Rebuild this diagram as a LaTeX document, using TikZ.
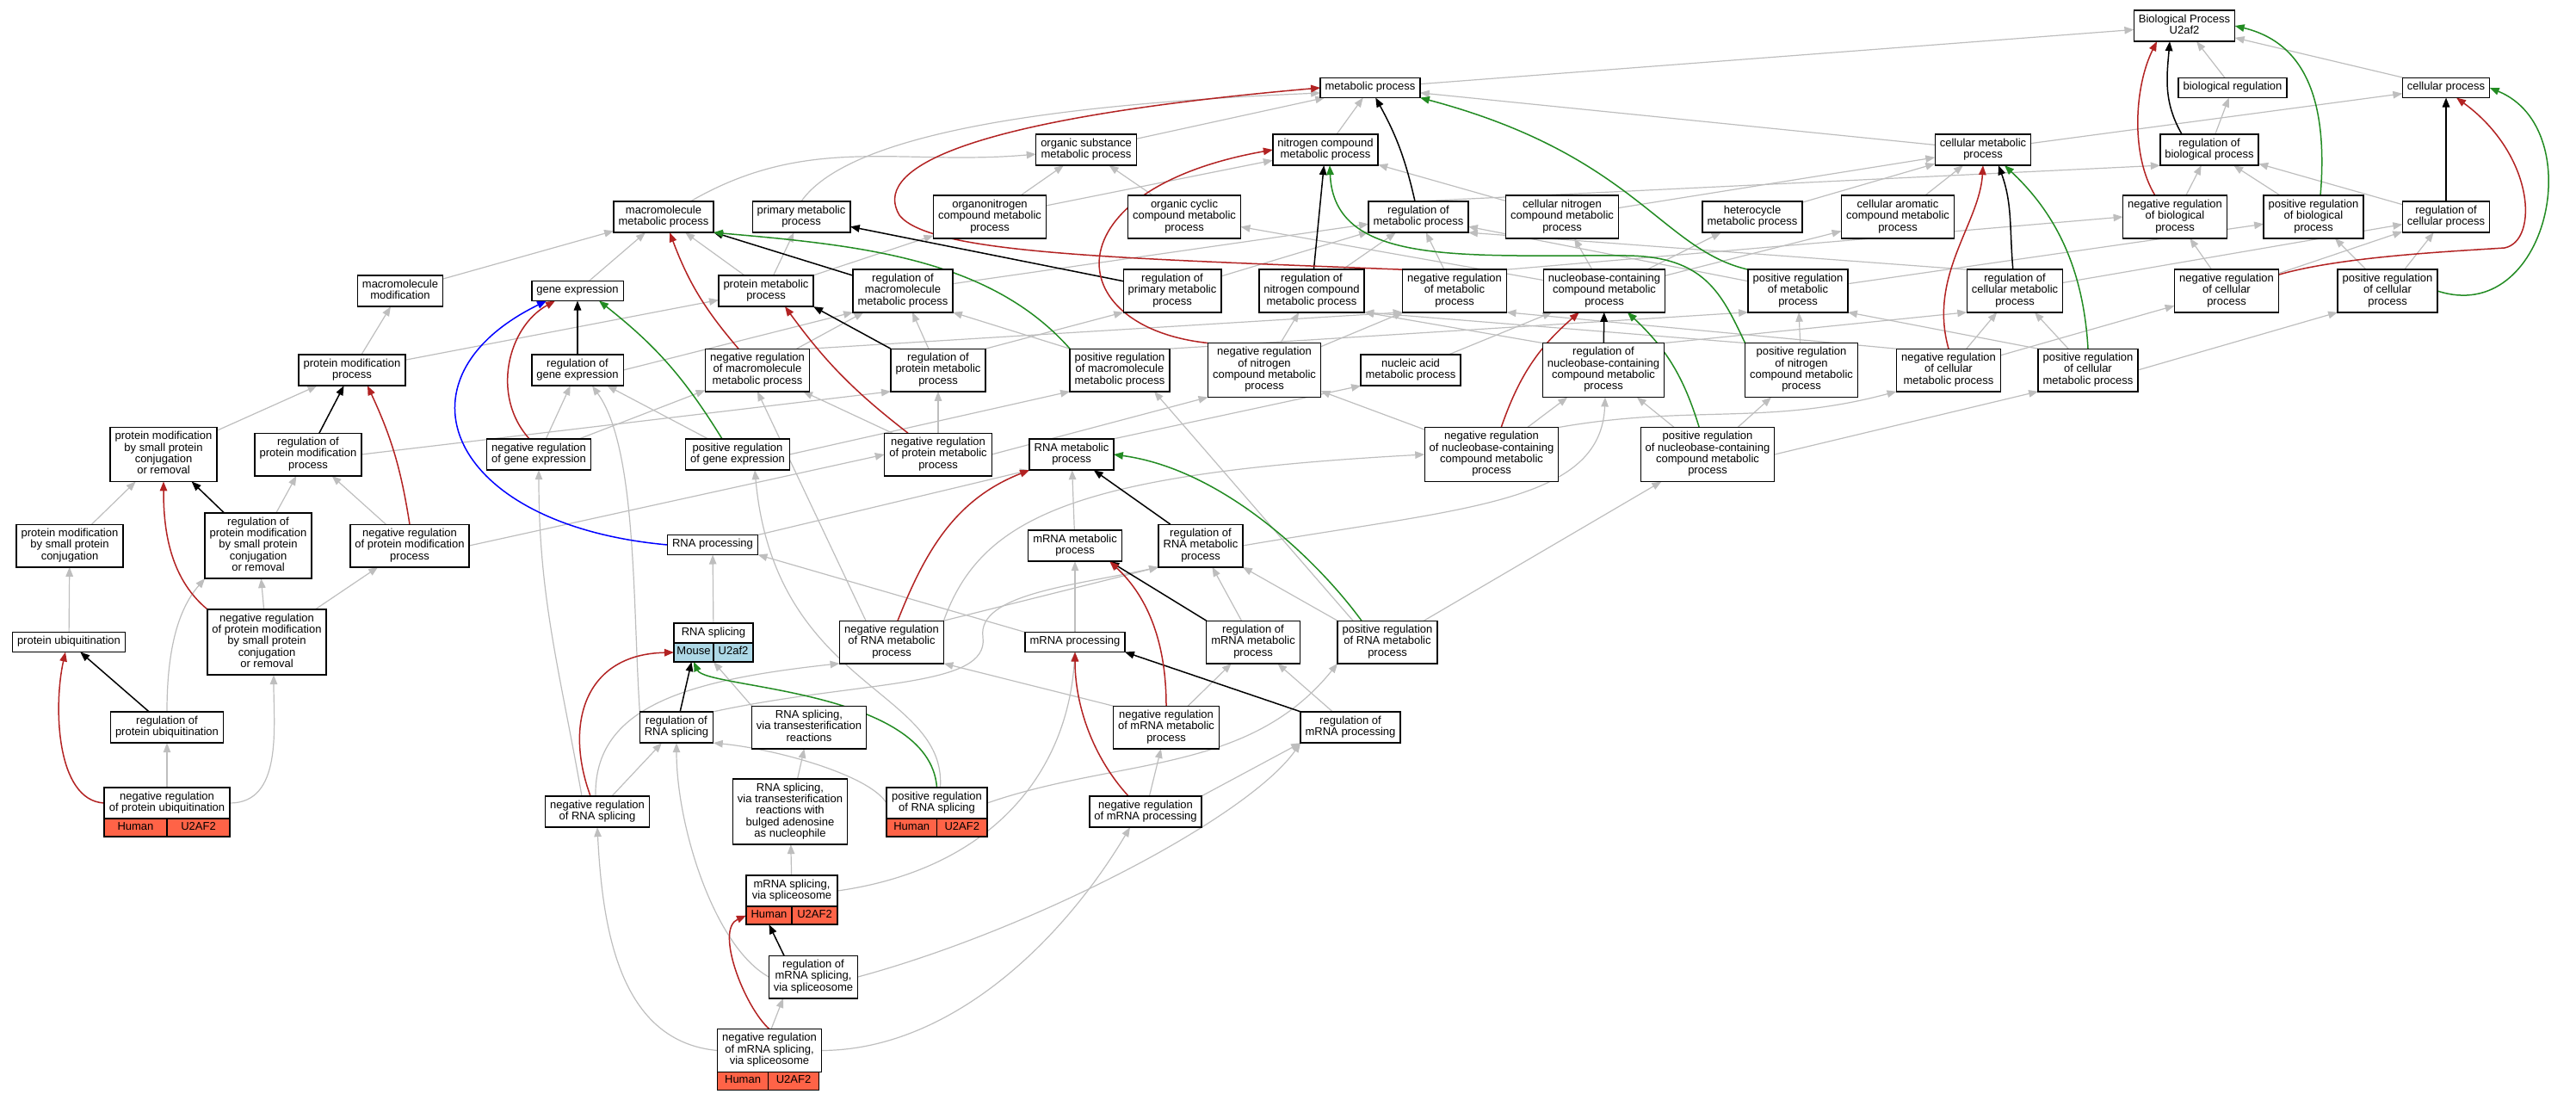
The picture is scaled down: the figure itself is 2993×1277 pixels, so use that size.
\documentclass[tikz,border=0pt]{standalone}
\usepackage{fontspec}
\setmainfont{Liberation Sans}
\usetikzlibrary{arrows.meta,backgrounds}
\definecolor{isagray}{HTML}{BEBEBE}
\definecolor{negred}{HTML}{B22222}
\definecolor{posgreen}{HTML}{228B22}
\definecolor{partblue}{HTML}{0000FF}
\definecolor{humancell}{HTML}{FF6347}
\definecolor{mousecell}{HTML}{ADD8E6}
\begin{document}
\begin{tikzpicture}[x=1pt, y=-1pt,
    term/.style={draw, rectangle, fill=white, align=center, line width=1.4pt,
      inner xsep=5.5pt, inner ysep=4.8pt, minimum height=23pt, outer sep=0pt,
      font=\fontsize{13}{13.3}\selectfont,
      execute at begin node=\strut, execute at end node=\strut},
    every node/.style={term},
    human/.style={fill=humancell, inner xsep=2pt, inner ysep=3.8pt, minimum height=21pt},
    mouse/.style={fill=mousecell, inner xsep=2pt, inner ysep=4pt, minimum height=22pt},
    tip/.style={-{Triangle[length=11pt,width=8.5pt]}},
    isa/.style={draw=isagray, line width=1.2pt, tip},
    reg/.style={draw=black, line width=1.5pt, tip},
    negreg/.style={draw=negred, line width=1.5pt, tip},
    posreg/.style={draw=posgreen, line width=1.5pt, tip},
    partof/.style={draw=partblue, line width=1.5pt, tip}]
  \useasboundingbox (0,0) rectangle (2993,1277);
  \draw
    (2538,30) node (0) {Biological Process\\U2af2}
    (1592,102) node (1) {metabolic process}
    (2594,102) node (2) {biological regulation}
    (2842,102) node (3) {cellular process}
    (1262,174) node (4) {organic substance\\metabolic process}
    (1540,174) node (5) {nitrogen compound\\metabolic process}
    (2304,174) node (6) {cellular metabolic\\process}
    (2567,174) node (7) {regulation of\\biological process}
    (771,252) node (8) {macromolecule\\metabolic process}
    (931,252) node (9) {primary metabolic\\process}
    (1150,252) node (10) {organonitrogen\\compound metabolic\\process}
    (1376,252) node (11) {organic cyclic\\compound metabolic\\process}
    (1648,252) node (12) {regulation of\\metabolic process}
    (1815,252) node (13) {cellular nitrogen\\compound metabolic\\process}
    (2036,252) node (14) {heterocycle\\metabolic process}
    (2205,252) node (15) {cellular aromatic\\compound metabolic\\process}
    (2527,252) node (16) {negative regulation\\of biological\\process}
    (2688,252) node (17) {positive regulation\\of biological\\process}
    (2842,252) node (18) {regulation of\\cellular process}
    (465,338) node (19) {macromolecule\\modification}
    (671,338) node (20) {gene expression}
    (890,338) node (21) {protein metabolic\\process}
    (1049,338) node (22) {regulation of\\macromolecule\\metabolic process}
    (1362,338) node (23) {regulation of\\primary metabolic\\process}
    (1524,338) node (24) {regulation of\\nitrogen compound\\metabolic process}
    (1690,338) node (25) {negative regulation\\of metabolic\\process}
    (1864,338) node (26) {nucleobase-containing\\compound metabolic\\process}
    (2089,338) node (27) {positive regulation\\of metabolic\\process}
    (2341,338) node (28) {regulation of\\cellular metabolic\\process}
    (2587,338) node (29) {negative regulation\\of cellular\\process}
    (2774,338) node (30) {positive regulation\\of cellular\\process}
    (409,430) node (31) {protein modification\\process}
    (671,430) node (32) {regulation of\\gene expression}
    (880,430) node (33) {negative regulation\\of macromolecule\\metabolic process}
    (1090,430) node (34) {regulation of\\protein metabolic\\process}
    (1301,430) node (35) {positive regulation\\of macromolecule\\metabolic process}
    (1469,430) node (36) {negative regulation\\of nitrogen\\compound metabolic\\process}
    (1639,430) node (37) {nucleic acid\\metabolic process}
    (1863,430) node (38) {regulation of\\nucleobase-containing\\compound metabolic\\process}
    (2093,430) node (39) {positive regulation\\of nitrogen\\compound metabolic\\process}
    (2264,430) node (40) {negative regulation\\of cellular\\metabolic process}
    (2426,430) node (41) {positive regulation\\of cellular\\metabolic process}
    (190,528) node (42) {protein modification\\by small protein\\conjugation\\or removal}
    (358,528) node (43) {regulation of\\protein modification\\process}
    (626,528) node (44) {negative regulation\\of gene expression}
    (857,528) node (45) {positive regulation\\of gene expression}
    (1090,528) node (46) {negative regulation\\of protein metabolic\\process}
    (1245,528) node (47) {RNA metabolic\\process}
    (1733,528) node (48) {negative regulation\\of nucleobase-containing\\compound metabolic\\process}
    (1984,528) node (49) {positive regulation\\of nucleobase-containing\\compound metabolic\\process}
    (81,634) node (50) {protein modification\\by small protein\\conjugation}
    (300,634) node (51) {regulation of\\protein modification\\by small protein\\conjugation\\or removal}
    (476,634) node (52) {negative regulation\\of protein modification\\process}
    (828,633) node (53) {RNA processing}
    (1249,634) node (54) {mRNA metabolic\\process}
    (1395,634) node (55) {regulation of\\RNA metabolic\\process}
    (80,746) node (56) {protein ubiquitination}
    (310,746) node (57) {negative regulation\\of protein modification\\by small protein\\conjugation\\or removal}
    (829,735.5) node[minimum width=92pt] (58) {RNA splicing}
    (1036,746) node (59) {negative regulation\\of RNA metabolic\\process}
    (1249,746) node (60) {mRNA processing}
    (1456,746) node (61) {regulation of\\mRNA metabolic\\process}
    (1612,746) node (62) {positive regulation\\of RNA metabolic\\process}
    (194,845) node (63) {regulation of\\protein ubiquitination}
    (786,845) node (64) {regulation of\\RNA splicing}
    (940,845) node (65) {RNA splicing,\\via transesterification\\reactions}
    (1355,845) node (66) {negative regulation\\of mRNA metabolic\\process}
    (1569,845) node (67) {regulation of\\mRNA processing}
    (194,933) node[minimum width=146pt] (68) {negative regulation\\of protein ubiquitination}
    (694,943) node (69) {negative regulation\\of RNA splicing}
    (918,943) node (70) {RNA splicing,\\via transesterification\\reactions with\\bulged adenosine\\as nucleophile}
    (1088.5,933) node[minimum width=117pt] (71) {positive regulation\\of RNA splicing}
    (1331,943) node (72) {negative regulation\\of mRNA processing}
    (920,1035) node[minimum width=106pt] (73) {mRNA splicing,\\via spliceosome}
    (945,1135) node (74) {regulation of\\mRNA splicing,\\via spliceosome}
    (894,1220.5) node[minimum width=118pt] (75) {negative regulation\\of mRNA splicing,\\via spliceosome};
  \draw
    (58.south west) node[mouse, anchor=north west, minimum width=46pt] (58a) {Mouse}
    (58a.north east) node[mouse, anchor=north west, minimum width=46pt] (58b) {U2af2}
    (68.south west) node[human, anchor=north west, minimum width=73pt] (68a) {Human}
    (68a.north east) node[human, anchor=north west, minimum width=73pt] (68b) {U2AF2}
    (71.south west) node[human, anchor=north west, minimum width=58.5pt] (71a) {Human}
    (71a.north east) node[human, anchor=north west, minimum width=58.5pt] (71b) {U2AF2}
    (73.south west) node[human, anchor=north west, minimum width=53pt] (73a) {Human}
    (73a.north east) node[human, anchor=north west, minimum width=53pt] (73b) {U2AF2}
    (75.south west) node[human, anchor=north west, minimum width=59pt] (75a) {Human}
    (75a.north east) node[human, anchor=north west, minimum width=59pt] (75b) {U2AF2};
  \begin{scope}[on background layer]
  \begin{scope}[isa]
    \draw (1) to (0);
    \draw (2) to (0);
    \draw (3) to (0);
    \draw (4) to (1);
    \draw (5) to (1);
    \draw (6) to (1);
    \draw (9.north) .. controls (990,150) and (1250,120) .. ([yshift=-6pt]1.west);
    \draw (6) to (3);
    \draw (7) to (2);
    \draw (8) to[out=30,in=185] (4);
    \draw (10) to (4);
    \draw (11) to (4);
    \draw (10) to (5);
    \draw (13) to (5);
    \draw (13) to (6);
    \draw (14) to (6);
    \draw (15) to (6);
    \draw (12.north) to (7.south west);
    \draw (16) to (7);
    \draw (17) to (7);
    \draw (18) to (7);
    \draw (19) to (8);
    \draw (20) to (8);
    \draw (21) to (8);
    \draw (21) to (9);
    \draw (21) to (10);
    \draw (22) to (12);
    \draw (23) to (12);
    \draw (24) to (12);
    \draw (25) to (12);
    \draw (27) to (12);
    \draw (28.north west) to (12.south east);
    \draw (25.north east) to (16.west);
    \draw (27) to (17);
    \draw (26) to (11);
    \draw (26) to (13);
    \draw (26) to (14);
    \draw (26) to (15);
    \draw (28) to (18);
    \draw (29) to (18);
    \draw (30) to (18);
    \draw (29) to (16);
    \draw (30) to (17);
    \draw (31) to (19);
    \draw (31) to (21);
    \draw (32.east) to (22.south west);
    \draw (33) to (22);
    \draw (33.north east) to (25.south west);
    \draw (34) to (22);
    \draw (34.north east) to (23.south west);
    \draw (35.north west) to (22.south east);
    \draw (35.north east) to (27.south west);
    \draw (36) to (24);
    \draw (36) to (25);
    \draw (37) to (26);
    \draw (38.north west) to (24.south east);
    \draw (38.north east) to (28.south west);
    \draw (39.north west) to (24.south east);
    \draw (39) to (27);
    \draw (40) to (28);
    \draw (40) to (29);
    \draw (40.north west) to (25.south east);
    \draw (41) to (28);
    \draw (41.east) to (30.south west);
    \draw (41.north west) to (27.south east);
    \draw (42) to (31);
    \draw (43.east) to (34.south west);
    \draw (44) to (32);
    \draw (44) to (33);
    \draw (45) to (32);
    \draw (45.east) to (35.south west);
    \draw (46) to (34);
    \draw (46) to (33);
    \draw (46.east) to (36.south west);
    \draw (47.north east) to (37.south west);
    \draw (48) to (38);
    \draw (48) to (36);
    \draw (48.north east) to[out=10,in=195] (40.south west);
    \draw (49) to (38);
    \draw (49) to (39);
    \draw (49.east) to (41.south west);
    \draw (50) to (42);
    \draw (51) to (43);
    \draw (52) to (43);
    \draw (52.east) to (46.west);
    \draw (53.north east) to (47.south west);
    \draw (54) to (47);
    \draw (55.east) .. controls (1700,590) and (1860,585) .. ([xshift=2pt]38.south);
    \draw (56) to (50);
    \draw (57) to (51);
    \draw (57) to (52);
    \draw (58) to (53);
    \draw (59.north east) to (55.south west);
    \draw (59.north east) .. controls (1140,600) and (1250,550) .. (48.west);
    \draw ([xshift=-30pt]59.north) to (33.south);
    \draw (60.north west) to (53.south east);
    \draw (60) to (54);
    \draw (61) to (55);
    \draw (62.north west) to (55.south east);
    \draw (62) to (49);
    \draw ([xshift=-40pt]62.north) to ([xshift=40pt]35.south);
    \draw (63.north) .. controls (194,760) and (205,710) .. (51.south west);
    \draw (64.north west) .. controls (735,700) and (740,520) .. ([xshift=17pt]32.south);
    \draw (64.north east) .. controls (1000,790) and (1150,800) .. (1142,740)
      .. controls (1135,690) and (1250,680) .. (55.south west);
    \draw (65.north west) to (58a.south east);
    \draw (66) to (61);
    \draw (66.north west) to (59.south east);
    \draw (67) to (61);
    \draw (68) to (63);
    \draw (68.east) to[out=0,in=-90] ([xshift=8pt]57.south);
    \draw (69) to (64);
    \draw ([xshift=-18pt]69.north) to[out=100,in=-90] (44.south);
    \draw ([xshift=-2pt]69.north) .. controls (690,820) and (800,790) .. (59.south west);
    \draw (70) to (65);
    \draw (71.west) .. controls (1010,900) and (900,870) .. (64.south east);
    \draw (71.east) .. controls (1300,880) and (1450,900) .. (62.south west);
    \draw ([xshift=4pt]71.north) .. controls (1100,800) and (900,800) .. ([xshift=20pt]45.south);
    \draw (72) to (66);
    \draw (72.north east) to (67.south west);
    \draw (73) to (70);
    \draw (73.east) .. controls (1150,1010) and (1240,900) .. (60.south);
    \draw (74.west) .. controls (830,1100) and (786,960) .. (64.south);
    \draw (74.east) .. controls (1200,1080) and (1450,950) .. (67.south west);
    \draw ([xshift=2pt]75.north) to ([xshift=-35pt]74.south);
    \draw (75.west) .. controls (720,1210) and (700,1080) .. (69.south);
    \draw (75.east) .. controls (1100,1220) and (1230,1100) .. ([xshift=-18pt]72.south);
  \end{scope}
  \begin{scope}[reg]
    \draw ([xshift=-32pt]7.north) to[out=120,in=-95] ([xshift=-17pt]0.south);
    \draw (12) to[bend right=8] (1);
    \draw (18) to (3);
    \draw (22) to (8);
    \draw (23) to (9);
    \draw (24) to (5);
    \draw (28) to[out=95,in=-70] ([xshift=18pt]6.south);
    \draw (32) to (20);
    \draw (34.north west) to (21.south east);
    \draw (38) to (26);
    \draw (43) to (31);
    \draw (51) to (42);
    \draw (55) to (47);
    \draw (61.north west) to ([xshift=-14pt]54.south east);
    \draw (63) to (56);
    \draw (64) to (58a);
    \draw (67.north west) to (60.south east);
    \draw ([xshift=-34pt]74.north) to (73a.south);
  \end{scope}
  \begin{scope}[negreg]
    \draw ([xshift=-23pt]16.north) .. controls (2475,180) and (2480,100) .. ([xshift=-32pt]0.south);
    \draw (25.north west) .. controls (1300,300) and (1080,295) .. (1045,250)
      .. controls (1015,200) and (1100,140) .. (1.west);
    \draw ([yshift=-6pt]29.north east) .. controls (2720,298) and (2850,292) .. (2910,288)
      .. controls (2950,280) and (2945,180) .. ([xshift=12pt]3.south);
    \draw (33) to[bend left=10] (8);
    \draw (36.north west) .. controls (1230,380) and (1220,220) .. (5.west);
    \draw (40.north) .. controls (2240,320) and (2300,260) .. (6.south);
    \draw ([xshift=-11pt]44.north) .. controls (570,460) and (590,380) .. ([xshift=-26pt]20.south);
    \draw ([xshift=-35pt]46.north) to[bend left=8] ([xshift=22pt]21.south);
    \draw (48) to[bend left=15] (26);
    \draw (52.north) to[bend right=8] ([xshift=18pt]31.south);
    \draw (57.north west) .. controls (195,670) and (190,610) .. (42.south);
    \draw ([xshift=7pt]59.north) .. controls (1075,640) and (1110,580) .. (47.south west);
    \draw (66.north) .. controls (1355,740) and (1330,690) .. ([xshift=-14pt]54.south east);
    \draw (68.west) .. controls (65,930) and (62,820) .. ([xshift=-4pt]56.south);
    \draw ([xshift=-8pt]69.north) .. controls (655,840) and (680,760) .. (58a.west);
    \draw ([xshift=-20pt]72.north) .. controls (1270,880) and (1249,820) .. (60.south);
    \draw (75.north) .. controls (865,1170) and (830,1080) .. (73a.west);
  \end{scope}
  \begin{scope}[posreg]
    \draw ([xshift=8pt]17.north) .. controls (2705,120) and (2680,50) .. (0.east);
    \draw (27.north west) .. controls (1930,290) and (1900,180) .. (1.south east);
    \draw (30.east) .. controls (2960,380) and (3010,150) .. (3.east);
    \draw (35.north west) .. controls (1150,300) and (1000,285) .. (8.south east);
    \draw (39.north west) .. controls (2000,340) and (1980,298) .. (1890,297)
      .. controls (1700,296) and (1550,310) .. ([xshift=5pt]5.south);
    \draw (41.north) .. controls (2420,300) and (2380,240) .. ([xshift=25pt]6.south);
    \draw ([xshift=-18pt]45.north) to[bend right=10] ([xshift=25pt]20.south);
    \draw (49) to[bend right=15] (26);
    \draw ([xshift=-30pt]62.north) .. controls (1530,650) and (1420,545) .. (47.east);
    \draw (71.north) .. controls (1080,800) and (820,800) .. (58a.south);
  \end{scope}
  \begin{scope}[partof]
    \draw (53.west) .. controls (520,610) and (450,440) .. ([xshift=-36pt]20.south);
  \end{scope}
  \end{scope}
\end{tikzpicture}
\end{document}
